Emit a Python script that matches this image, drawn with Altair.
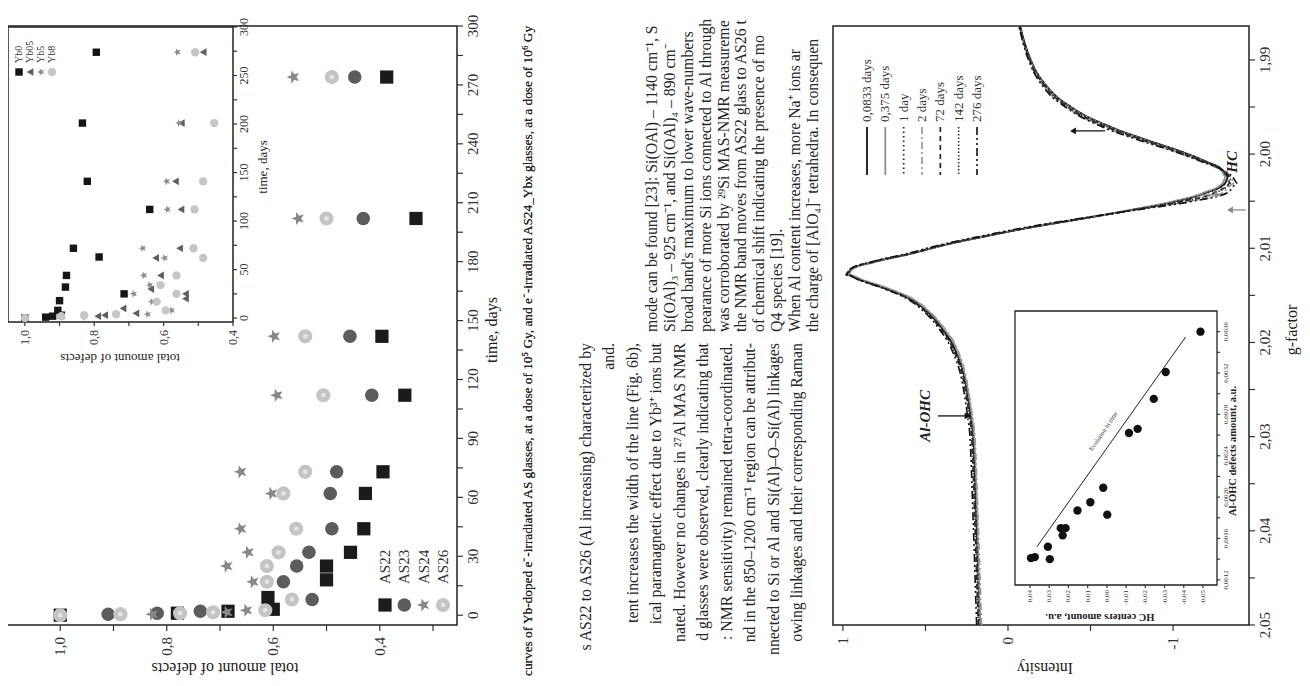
import math
import altair as alt
import pandas as pd

FONT = "Liberation Serif"
AX = "#333333"

# ---------------- left chart: total amount of defects vs time (AS glasses) ----------------
main_series = ["AS22", "AS23", "AS24", "AS26"]
as22_t = [0, 1, 2, 3, 9, 18, 25, 32, 44, 62, 73, 112, 142, 202, 274]
as22_d = [1.0, 0.78, 0.685, 0.60, 0.61, 0.50, 0.50, 0.455, 0.43, 0.427, 0.394, 0.353, 0.396, 0.332, 0.387]
as23_t = [0, 0.5, 1, 2, 8, 17, 25, 32, 44, 62, 73, 112, 142, 202, 274]
as23_d = [1.0, 0.91, 0.818, 0.737, 0.527, 0.581, 0.556, 0.533, 0.49, 0.493, 0.481, 0.415, 0.456, 0.431, 0.447]
as24_t = [0, 0.5, 1, 1.5, 2.5, 17, 25, 32, 44, 62, 73, 112, 142, 202, 274]
as24_d = [1.0, 0.827, 0.775, 0.687, 0.65, 0.638, 0.687, 0.647, 0.661, 0.603, 0.661, 0.593, 0.598, 0.553, 0.562]
as26_t = [0, 0.5, 1, 1.5, 2.5, 8, 17, 25, 32, 44, 62, 73, 112, 142, 202, 274]
as26_d = [1.0, 0.887, 0.775, 0.713, 0.615, 0.565, 0.612, 0.612, 0.59, 0.557, 0.581, 0.54, 0.506, 0.54, 0.50, 0.49]
defect_ticks = [0.3, 0.4, 0.5, 0.6, 0.7, 0.8, 0.9, 1.0]
defect_labels = ["", "0,4", "", "0,6", "", "0,8", "", "1,0"]
time_ticks = list(range(0, 301, 15))
time_labels = [str(v) if v % 30 == 0 else "" for v in time_ticks]

# ---------------- inset of left chart (AS24_Ybx glasses) ----------------
inset_series = ["Yb0", "Yb05", "Yb5", "Yb8"]
yb0_t = [0, 1, 2, 3, 8, 18, 25, 32, 44, 63, 72, 112, 141, 201, 274]
yb0_d = [1.0, 0.94, 0.92, 0.895, 0.905, 0.90, 0.714, 0.883, 0.88, 0.786, 0.86, 0.64, 0.82, 0.834, 0.794]
yb05_t = [0, 2, 3, 5, 10, 20, 25, 30, 44, 62, 72, 112, 141, 201, 274]
yb05_d = [1.0, 0.79, 0.77, 0.68, 0.717, 0.537, 0.537, 0.637, 0.609, 0.623, 0.554, 0.55, 0.566, 0.549, 0.486]
yb5_t = [0, 1, 4, 8, 17, 25, 34, 44, 62, 72, 112, 141, 201, 274]
yb5_d = [1.0, 0.829, 0.646, 0.577, 0.634, 0.686, 0.64, 0.657, 0.597, 0.66, 0.589, 0.591, 0.555, 0.56]
yb8_t = [0, 2, 3, 4, 8, 17, 25, 34, 44, 62, 72, 112, 141, 201, 274]
yb8_d = [1.0, 0.895, 0.829, 0.737, 0.594, 0.62, 0.563, 0.609, 0.563, 0.486, 0.514, 0.511, 0.486, 0.454, 0.509]
inset_d_ticks = [0.4, 0.5, 0.6, 0.7, 0.8, 0.9, 1.0]
inset_d_labels = ["0,4", "", "0,6", "", "0,8", "", "1,0"]
inset_t_ticks = list(range(0, 301, 25))
inset_t_labels = [str(v) if v % 50 == 0 else "" for v in inset_t_ticks]

# ---------------- right chart: EPR spectra ----------------
curve_labels = ["0,0833 days", "0,375 days", "1 day", "2 days", "72 days", "142 days", "276 days"]
g_grid = [2.0500, 2.0394, 2.0301, 2.0278, 2.0240, 2.0208, 2.0185, 2.0161, 2.0143, 2.0134, 2.0128,
          2.0122, 2.0115, 2.0106, 2.0096, 2.0087, 2.0078, 2.0069, 2.0059, 2.0050, 2.0041, 2.0031,
          2.0024, 2.0017, 2.0008, 1.9998, 1.9985, 1.9971, 1.9952, 1.9929, 1.9906, 1.9883, 1.9864]
c_0083 = [0.17, 0.19, 0.21, 0.226, 0.26, 0.32, 0.40, 0.53, 0.735, 0.887, 0.978, 0.947, 0.82, 0.594, 0.372,
          0.13, -0.133, -0.436, -0.76, -1.02, -1.20, -1.315, -1.335, -1.30, -1.20, -1.06, -0.84, -0.62,
          -0.40, -0.24, -0.153, -0.103, -0.073]
c_0375 = [0.17, 0.185, 0.205, 0.22, 0.255, 0.31, 0.39, 0.52, 0.72, 0.875, 0.97, 0.94, 0.815, 0.59, 0.368,
          0.128, -0.13, -0.43, -0.75, -1.005, -1.185, -1.30, -1.32, -1.29, -1.19, -1.05, -0.83, -0.61,
          -0.395, -0.235, -0.15, -0.10, -0.07]
c_1 = [0.175, 0.192, 0.212, 0.228, 0.262, 0.322, 0.402, 0.532, 0.738, 0.89, 0.98, 0.95, 0.822, 0.596, 0.374,
       0.132, -0.13, -0.44, -0.765, -1.03, -1.21, -1.32, -1.335, -1.30, -1.20, -1.055, -0.835, -0.615,
       -0.398, -0.238, -0.152, -0.102, -0.072]
c_2 = [0.16, 0.18, 0.20, 0.216, 0.25, 0.305, 0.385, 0.515, 0.72, 0.875, 0.97, 0.945, 0.83, 0.61, 0.39,
       0.15, -0.11, -0.42, -0.78, -1.10, -1.30, -1.37, -1.35, -1.29, -1.17, -1.02, -0.80, -0.58,
       -0.37, -0.22, -0.14, -0.095, -0.068]
c_72 = [0.18, 0.20, 0.22, 0.235, 0.27, 0.33, 0.41, 0.54, 0.745, 0.895, 0.985, 0.955, 0.83, 0.60, 0.378,
        0.135, -0.128, -0.43, -0.77, -1.06, -1.25, -1.34, -1.34, -1.295, -1.185, -1.04, -0.815, -0.595,
        -0.38, -0.228, -0.145, -0.098, -0.07]
c_142 = [0.18, 0.198, 0.218, 0.233, 0.268, 0.328, 0.408, 0.538, 0.742, 0.892, 0.982, 0.952, 0.826, 0.598,
         0.376, 0.133, -0.13, -0.432, -0.772, -1.07, -1.26, -1.345, -1.345, -1.30, -1.19, -1.045, -0.82,
         -0.60, -0.385, -0.23, -0.148, -0.10, -0.071]
c_276 = [0.19, 0.21, 0.23, 0.245, 0.28, 0.34, 0.42, 0.55, 0.75, 0.90, 0.985, 0.955, 0.84, 0.62, 0.40,
         0.16, -0.10, -0.41, -0.79, -1.12, -1.33, -1.39, -1.36, -1.30, -1.175, -1.02, -0.79, -0.57,
         -0.365, -0.215, -0.138, -0.093, -0.066]
int_ticks = [1.0, 0.5, 0.0, -0.5, -1.0]
int_labels = ["1", "", "0", "", "-1"]
g_ticks = [1.99, 1.995, 2.0, 2.005, 2.01, 2.015, 2.02, 2.025, 2.03, 2.035, 2.04, 2.045, 2.05]
g_labels = ["1,99", "", "2,00", "", "2,01", "", "2,02", "", "2,03", "", "2,04", "", "2,05"]

# inset of right chart: HC centres vs Al-OHC defects
hc_amount = [0.0395, 0.0375, 0.0307, 0.0297, 0.024, 0.023, 0.0215, 0.0153, 0.0086, 0.0019, -0.0002,
             -0.0115, -0.016, -0.0244, -0.0306, -0.0487]
al_amount = [0.00141, 0.00142, 0.00152, 0.00140, 0.00170, 0.00163, 0.00170, 0.00187, 0.00195, 0.00209,
             0.00183, 0.00262, 0.00266, 0.00295, 0.00321, 0.00360]
trend_hc = [0.0364, -0.041]
trend_al = [0.00152, 0.00355]
hc_ticks = [0.04, 0.03, 0.02, 0.01, 0.0, -0.01, -0.02, -0.03, -0.04, -0.05]
hc_labels = ["0,04", "0,03", "0,02", "0,01", "0,00", "-0,01", "-0,02", "-0,03", "-0,04", "-0,05"]
al_ticks = [0.0012, 0.0014, 0.0016, 0.0018, 0.0020, 0.0022, 0.0024, 0.0026, 0.0028, 0.0030, 0.0032, 0.0034, 0.0036]
al_labels = ["0,0012", "", "0,0016", "", "0,0020", "", "0,0024", "", "0,0028", "", "0,0032", "", "0,0036"]

# annotations of right chart (g-factor, intensity)
ann_text = ["Al-OHC", "HC"]
ann_g = [2.0278, 2.00083]
ann_i = [0.50, -1.36]
arrow_g = [2.0278, 1.99754, 2.00434, 2.00593]
arrow_from = [0.424, -0.588, -1.145, -1.44]
arrow_to = [0.245, -0.394, -1.27, -1.345]
arrow_col = ["#111111", "#111111", "#8a8a8a", "#8a8a8a"]

# ---------------- page text (scanned article) ----------------
caption = ("curves of Yb-doped e\u207b-irradiated AS glasses, at a dose of 10\u2075 Gy, and e\u207b-irradiated "
           "AS24_Ybx glasses, at a dose of 10\u2076 Gy")
lower_lines = [
    "s AS22 to AS26 (Al increasing) characterized by",
    "and.",
    "tent increases the width of the line (Fig. 6b),",
    "ical paramagnetic effect due to Yb\u00b3\u207a ions but",
    "nated. However no changes in \u00b2\u2077Al MAS NMR",
    "d glasses were observed, clearly indicating that",
    ": NMR sensitivity) remained tetra-coordinated.",
    "nd in the 850\u20131200 cm\u207b\u00b9 region can be attribut-",
    "nnected to Si or Al and Si(Al)\u2013O\u2013Si(Al) linkages",
    "owing linkages and their corresponding Raman",
]
upper_lines = [
    "mode can be found [23]: Si(OAl) \u2013 1140 cm\u207b\u00b9, S",
    "Si(OAl)\u2083 \u2013 925 cm\u207b\u00b9, and Si(OAl)\u2084 \u2013 890 cm\u207b",
    "broad band's maximum to lower wave-numbers",
    "pearance of more Si ions connected to Al through",
    "was corroborated by \u00b2\u2079Si MAS-NMR measureme",
    "the NMR band moves from AS22 glass to AS26 t",
    "of chemical shift indicating the presence of mo",
    "Q4 species [19].",
    "   When Al content increases, more Na\u207a ions ar",
    "the charge of [AlO\u2084]\u207b tetrahedra. In consequen",
]

# ---------------- tables ----------------
def long_table(names, ts, ds):
    rows = []
    for n, tt, dd in zip(names, ts, ds):
        for a, b in zip(tt, dd):
            rows.append({"s": n, "t": a, "d": b})
    return pd.DataFrame(rows)

df_main = long_table(main_series, [as22_t, as23_t, as24_t, as26_t], [as22_d, as23_d, as24_d, as26_d])
df_ins = long_table(inset_series, [yb0_t, yb05_t, yb5_t, yb8_t], [yb0_d, yb05_d, yb5_d, yb8_d])
curves = [c_0083, c_0375, c_1, c_2, c_72, c_142, c_276]
df_curves = pd.DataFrame([
    {"curve": lab, "g": g, "I": v, "k": k}
    for lab, vals in zip(curve_labels, curves)
    for k, (g, v) in enumerate(zip(g_grid, vals))
])
df_hc = pd.DataFrame({"hc": hc_amount, "al": al_amount})
df_trend = pd.DataFrame({"hc": trend_hc, "al": trend_al})
df_ann = pd.DataFrame({"txt": ann_text, "g": ann_g, "I": ann_i})
df_arrow = pd.DataFrame({"g": arrow_g, "i0": arrow_from, "i1": arrow_to, "col": arrow_col,
                         "dir": ["r" if b < a else "l" for a, b in zip(arrow_from, arrow_to)]})

# ---------------- styles ----------------
def star_path(r_in=0.42, start=180):
    pts = []
    for k in range(10):
        ang = math.radians(start + 36 * k)
        r = 1.0 if k % 2 == 0 else r_in
        pts.append(f"{r * math.cos(ang):.3f},{r * math.sin(ang):.3f}")
    return "M" + " L".join(pts) + " Z"

STAR = star_path()
shapeA = alt.Scale(domain=main_series, range=["square", "circle", STAR, "circle"])
colorA = alt.Scale(domain=main_series, range=["#1b1b1b", "#5c5c5c", "#888888", "#c4c4c4"])
sizeA = alt.Scale(domain=main_series, range=[175, 200, 320, 200])
shapeB = alt.Scale(domain=inset_series, range=["square", "triangle-left", STAR, "circle"])
colorB = alt.Scale(domain=inset_series, range=["#161616", "#5e5e5e", "#8c8c8c", "#c6c6c6"])
sizeB = alt.Scale(domain=inset_series, range=[55, 70, 95, 55])
dashC = alt.Scale(domain=curve_labels, range=[[1, 0], [1, 0], [1.5, 3], [7, 3, 2, 3], [5, 4], [1.5, 2],
                                              [8, 3, 2, 3, 2, 3]])
colC = alt.Scale(domain=curve_labels, range=["#111111", "#8d8d8d", "#222222", "#9a9a9a", "#222222",
                                             "#333333", "#111111"])
widC = alt.Scale(domain=curve_labels, range=[1.8, 1.6, 1.4, 1.5, 1.4, 1.4, 2.2])


def lin(domain, rng):
    return alt.Scale(domain=domain, range=rng, nice=False, zero=False, clamp=False)


def frame(xd, yd, xs, ys, fill=None, width=1.5):
    d = pd.DataFrame({"x1": [xd[0]], "x2": [xd[1]], "y1": [yd[0]], "y2": [yd[1]]})
    kw = dict(stroke="#222", strokeWidth=width)
    if fill is None:
        kw.update(fill="white", fillOpacity=0)
    else:
        kw.update(fill=fill)
    return alt.Chart(d).mark_rect(**kw).encode(
        x=alt.X("x1:Q", scale=xs, axis=None), x2="x2:Q",
        y=alt.Y("y1:Q", scale=ys, axis=None), y2="y2:Q")


def bottom_axis(xs, vals, labs, y0, tick, pad, size):
    d = pd.DataFrame({"v": vals, "lab": labs})
    ticks = alt.Chart(d).mark_rule(color=AX, strokeWidth=1.2).encode(
        x=alt.X("v:Q", scale=xs, axis=None), y=alt.value(y0), y2=alt.value(y0 + tick))
    text = alt.Chart(d).mark_text(angle=270, align="right", baseline="middle", font=FONT, fontSize=size,
                                  color=AX).encode(
        x=alt.X("v:Q", scale=xs, axis=None), y=alt.value(y0 + tick + pad), text="lab:N")
    return [ticks, text]


def right_axis(ys, vals, labs, x0, tick, pad, size):
    d = pd.DataFrame({"v": vals, "lab": labs})
    ticks = alt.Chart(d).mark_rule(color=AX, strokeWidth=1.2).encode(
        y=alt.Y("v:Q", scale=ys, axis=None), x=alt.value(x0), x2=alt.value(x0 + tick))
    text = alt.Chart(d).mark_text(angle=270, align="center", baseline="top", font=FONT, fontSize=size,
                                  color=AX).encode(
        y=alt.Y("v:Q", scale=ys, axis=None), x=alt.value(x0 + tick + pad), text="lab:N")
    return [ticks, text]


def title_text(txt, x, y, angle, size, weight="normal"):
    d = pd.DataFrame({"txt": [txt]})
    return alt.Chart(d).mark_text(angle=angle, align="center", baseline="middle", font=FONT, fontSize=size,
                                  fontWeight=weight, color="#222").encode(
        x=alt.value(x), y=alt.value(y), text="txt:N")

# ---------------- A: main left chart ----------------
xA_dom, yA_dom = [1.1, 0.255], [-5, 300]
xA = lin(xA_dom, [-1, 449])
yA = lin(yA_dom, [617, 18])
ptsA = alt.Chart(df_main).mark_point(filled=True, opacity=1, strokeWidth=0).encode(
    x=alt.X("d:Q", scale=xA, axis=None), y=alt.Y("t:Q", scale=yA, axis=None),
    shape=alt.Shape("s:N", scale=shapeA, legend=None), color=alt.Color("s:N", scale=colorA, legend=None),
    size=alt.Size("s:N", scale=sizeA, legend=None))
hlA = alt.Chart(df_main).transform_filter("datum.s == 'AS26'").mark_circle(
    color="#e4e4e4", size=22, opacity=1).encode(
    x=alt.X("d:Q", scale=xA, axis=None), y=alt.Y("t:Q", scale=yA, axis=None))
chartA = alt.layer(
    frame(xA_dom, yA_dom, xA, yA), ptsA, hlA,
    *bottom_axis(xA, defect_ticks, defect_labels, 617, 6, 6, 15),
    *right_axis(yA, time_ticks, time_labels, 449, 6, 3, 15),
)
titlesA = alt.layer(
    title_text("total amount of defects", 217, 660, 180, 16),
    title_text("time, days", 484, 322, 270, 16),
)

df_legA = pd.DataFrame({"s": main_series})
legx_A = alt.X("s:N", scale=alt.Scale(type="point", domain=main_series, range=[377, 435], padding=0), axis=None)
legA = alt.layer(
    alt.Chart(df_legA).mark_point(filled=True, opacity=1, strokeWidth=0).encode(
        x=legx_A, y=alt.value(597), shape=alt.Shape("s:N", scale=shapeA, legend=None),
        color=alt.Color("s:N", scale=colorA, legend=None), size=alt.Size("s:N", scale=sizeA, legend=None)),
    alt.Chart(df_legA).transform_filter("datum.s == 'AS26'").mark_circle(color="#e4e4e4", size=22, opacity=1)
    .encode(x=legx_A, y=alt.value(597)),
    alt.Chart(df_legA).mark_text(angle=270, align="left", baseline="middle", font=FONT, fontSize=15,
                                 color="#333").encode(x=legx_A, y=alt.value(576), text="s:N"),
)

# ---------------- B: inset of left chart ----------------
xB_dom, yB_dom = [1.0486, 0.4], [-4, 300]
xB = lin(xB_dom, [0, 225])
yB = lin(yB_dom, [314, 19])
ptsB = alt.Chart(df_ins).mark_point(filled=True, opacity=1, strokeWidth=0).encode(
    x=alt.X("d:Q", scale=xB, axis=None), y=alt.Y("t:Q", scale=yB, axis=None),
    shape=alt.Shape("s:N", scale=shapeB, legend=None), color=alt.Color("s:N", scale=colorB, legend=None),
    size=alt.Size("s:N", scale=sizeB, legend=None))
chartB = alt.layer(
    frame(xB_dom, yB_dom, xB, yB), ptsB,
    *bottom_axis(xB, inset_d_ticks, inset_d_labels, 314, 4, 4, 12),
    *right_axis(yB, inset_t_ticks, inset_t_labels, 225, 4, 2, 12),
)
titlesB = alt.layer(
    title_text("total amount of defects", 112, 350, 180, 13),
    title_text("time, days", 255, 159, 270, 13),
)

df_legB = pd.DataFrame({"s": inset_series})
legx_B = alt.X("s:N", scale=alt.Scale(type="point", domain=inset_series, range=[11, 44], padding=0), axis=None)
legB = alt.layer(
    alt.Chart(df_legB).mark_point(filled=True, opacity=1, strokeWidth=0).encode(
        x=legx_B, y=alt.value(64), shape=alt.Shape("s:N", scale=shapeB, legend=None),
        color=alt.Color("s:N", scale=colorB, legend=None), size=alt.Size("s:N", scale=sizeB, legend=None)),
    alt.Chart(df_legB).mark_text(angle=270, align="left", baseline="middle", font=FONT, fontSize=10,
                                 color="#333").encode(x=legx_B, y=alt.value(55), text="s:N"),
)

# ---------------- C: right chart (EPR spectra) ----------------
xC_dom, yC_dom = [1.06, -1.46], [2.05, 1.9864]
xC = lin(xC_dom, [825, 1241])
yC = lin(yC_dom, [617, 18])
linesC = alt.Chart(df_curves).mark_line(interpolate="monotone").encode(
    x=alt.X("I:Q", scale=xC, axis=None), y=alt.Y("g:Q", scale=yC, axis=None), order="k:Q",
    detail="curve:N",
    color=alt.Color("curve:N", scale=colC, legend=None),
    strokeDash=alt.StrokeDash("curve:N", scale=dashC, legend=None),
    strokeWidth=alt.StrokeWidth("curve:N", scale=widC, legend=None))
annC = alt.Chart(df_ann).mark_text(angle=270, align="center", baseline="middle", font=FONT, fontSize=15,
                                   fontStyle="italic", fontWeight="bold", color="#222").encode(
    x=alt.X("I:Q", scale=xC, axis=None), y=alt.Y("g:Q", scale=yC, axis=None), text="txt:N")
arrC = alt.Chart(df_arrow).mark_rule(strokeWidth=1.3).encode(
    x=alt.X("i0:Q", scale=xC, axis=None), x2="i1:Q", y=alt.Y("g:Q", scale=yC, axis=None),
    color=alt.Color("col:N", scale=None))
headC = alt.Chart(df_arrow).mark_point(filled=True, opacity=1, strokeWidth=0, size=45).encode(
    x=alt.X("i1:Q", scale=xC, axis=None), y=alt.Y("g:Q", scale=yC, axis=None),
    shape=alt.Shape("dir:N", scale=alt.Scale(domain=["r", "l"], range=["triangle-right", "triangle-left"]),
                    legend=None),
    color=alt.Color("col:N", scale=None))
chartC = alt.layer(
    frame(xC_dom, yC_dom, xC, yC), linesC, annC, arrC, headC,
    *bottom_axis(xC, int_ticks, int_labels, 617, 6, 6, 15),
    *right_axis(yC, g_ticks, g_labels, 1241, 6, 3, 15),
)
titlesC = alt.layer(
    title_text("Intensity", 1037, 660, 180, 16),
    title_text("g-factor", 1284, 322, 270, 16),
)

df_legC = pd.DataFrame({"curve": curve_labels})
legx_C = alt.X("curve:N", scale=alt.Scale(type="point", domain=curve_labels, range=[859, 969], padding=0),
               axis=None)
legC = alt.layer(
    alt.Chart(df_legC).mark_rule().encode(
        x=legx_C, y=alt.value(119), y2=alt.value(167),
        color=alt.Color("curve:N", scale=colC, legend=None),
        strokeDash=alt.StrokeDash("curve:N", scale=dashC, legend=None),
        strokeWidth=alt.StrokeWidth("curve:N", scale=widC, legend=None)),
    alt.Chart(df_legC).mark_text(angle=270, align="left", baseline="middle", font=FONT, fontSize=13,
                                 color="#333").encode(x=legx_C, y=alt.value(114), text="curve:N"),
)

# ---------------- D: inset of right chart ----------------
xD_dom, yD_dom = [0.0478, -0.0573], [0.00115, 0.0038]
xD = lin(xD_dom, [1007, 1209])
yD = lin(yD_dom, [577, 303])
ptsD = alt.Chart(df_hc).mark_circle(color="#111", size=70, opacity=1).encode(
    x=alt.X("hc:Q", scale=xD, axis=None), y=alt.Y("al:Q", scale=yD, axis=None))
trendD = alt.Chart(df_trend).mark_line(color="#222", strokeWidth=1).encode(
    x=alt.X("hc:Q", scale=xD, axis=None), y=alt.Y("al:Q", scale=yD, axis=None))
df_trend_txt = pd.DataFrame({"hc": [0.0005], "al": [0.00262], "txt": ["Evolution in time"]})
trendTxt = alt.Chart(df_trend_txt).mark_text(angle=304, font=FONT, fontSize=6.5, color="#333",
                                             align="center", baseline="bottom").encode(
    x=alt.X("hc:Q", scale=xD, axis=None), y=alt.Y("al:Q", scale=yD, axis=None), text="txt:N")
chartD = alt.layer(
    frame(xD_dom, yD_dom, xD, yD, fill="white", width=1.3), trendD, ptsD, trendTxt,
    *bottom_axis(xD, hc_ticks, hc_labels, 577, 3, 2, 7),
    *right_axis(yD, al_ticks, al_labels, 1209, 3, 2, 7),
)
titlesD = alt.layer(
    title_text("HC centers amount, a.u.", 1092, 609, 180, 10.5, "bold"),
    title_text("Al-OHC defects amount, a.u.", 1225, 443, 270, 10.5, "bold"),
)

# ---------------- E: article text ----------------
def text_column(lines, x0, x1, y, align, size):
    d = pd.DataFrame({"i": list(range(len(lines))), "txt": lines})
    n = max(len(lines) - 1, 1)
    return alt.Chart(d).mark_text(angle=270, align=align, baseline="middle", font=FONT, fontSize=size,
                                  color="#262626").encode(
        x=alt.X("i:Q", scale=alt.Scale(domain=[0, n], range=[x0, x1], nice=False, zero=False), axis=None),
        y=alt.value(y), text="txt:N")

textCap = text_column([caption, caption], 520, 520, 668, "left", 13.3)
textLow = text_column(lower_lines, 578, 789, 335, "right", 15.8)
textUp = text_column(upper_lines, 644, 805, 324, "left", 15.8)

chart = alt.layer(
    chartA, titlesA, chartB, titlesB, legA, legB, chartC, titlesC, legC, chartD, titlesD,
    textCap, textLow, textUp
).resolve_scale(
    x="independent", y="independent", color="independent", shape="independent", size="independent",
    strokeDash="independent", strokeWidth="independent"
).properties(
    width=1294, height=670, autosize=alt.AutoSizeParams(type="none"), padding=0, background="white"
).configure_view(stroke=None)

chart.save("out.html", embed_options={"renderer": "svg", "actions": False})
